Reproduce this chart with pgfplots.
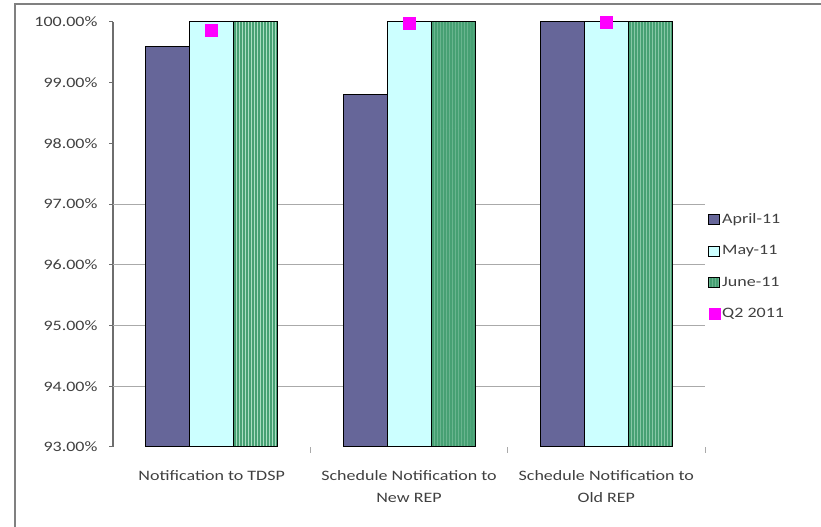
\documentclass[border=0pt]{standalone}
\usepackage{fontspec}
\setmainfont[FakeStretch=1.25]{Carlito}
\usepackage{pgfplots}
\pgfplotsset{compat=1.18}
\usetikzlibrary{patterns}

\definecolor{aprilc}{RGB}{102,102,153}
\definecolor{mayc}{RGB}{204,255,255}
\definecolor{junec}{RGB}{70,160,115}
\definecolor{junes}{RGB}{170,222,195}
\definecolor{q2c}{RGB}{255,0,255}
\definecolor{txtc}{RGB}{64,64,64}
\definecolor{gridc}{RGB}{170,170,170}
\definecolor{axisc}{RGB}{110,110,110}
\definecolor{framec}{RGB}{128,128,128}

\pgfplotsset{
  barleg/.style={legend image code/.code={\draw[##1] (0bp,-5bp) rectangle (11bp,5bp);}},
  markleg/.style={legend image code/.code={\fill[q2c] (0bp,-5.5bp) rectangle (11bp,5.5bp);}},
}

\begin{document}
\begin{tikzpicture}[x=1bp,y=1bp]
\useasboundingbox (0,0) rectangle (821,527);
\draw[framec, line width=2bp] (15,0) -- (15,523) -- (821,523);
\begin{axis}[
  at={(113bp,80bp)}, anchor=south west,
  scale only axis, width=592bp, height=425bp,
  xmin=-0.5, xmax=2.5, ymin=93, ymax=100,
  axis y line*=left, axis x line*=bottom,
  x axis line style={draw=none},
  y axis line style={draw=axisc, line width=1.5bp},
  tick align=outside,
  major tick length=4bp,
  font=\fontsize{14.4bp}{17bp}\selectfont,
  /pgf/number format/assume math mode=true,
  ticklabel style={text=txtc},
  xtick={0,1,2},
  xticklabels={Notification to TDSP, Schedule Notification to\\New REP, Schedule Notification to\\Old REP},
  xticklabel style={align=center, yshift=-16bp, font=\fontsize{14.4bp}{22bp}\selectfont},
  x tick style={draw=none},
  extra x ticks={0.5,1.5,2.5},
  extra x tick labels={},
  extra x tick style={x tick style={draw=gridc, line width=1bp}, major tick length=6bp},
  ytick={93,94,...,100},
  y tick style={draw=axisc, line width=1bp},
  yticklabel={\pgfmathprintnumber[fixed,fixed zerofill,precision=2]{\tick}\%},
  yticklabel style={xshift=-8bp},
  extra y ticks={94,95,96,97},
  extra y tick labels={},
  extra y tick style={ymajorgrids=true, major grid style={draw=gridc, line width=1bp}},
  legend style={draw=none, fill=none, at={(1,0.425)}, anchor=west,
    row sep=16.5bp, font=\fontsize{14.4bp}{17bp}\selectfont, text=txtc,
    /tikz/every even column/.append style={column sep=2bp}},
  legend cell align=left,
]
\addplot[ybar, bar width=44bp, bar shift=-44bp, fill=aprilc, draw=black, line width=1bp, barleg]
  coordinates {(0,99.59) (1,98.81) (2,100)};
\addlegendentry{April-11}
\addplot[ybar, bar width=44bp, bar shift=0bp, fill=mayc, draw=black, line width=1bp, barleg]
  coordinates {(0,100) (1,100) (2,100)};
\addlegendentry{May-11}
\addplot[ybar, bar width=44bp, bar shift=44bp, fill=junec, draw=black, line width=1bp,
  postaction={pattern=vertical lines, pattern color=junes}, barleg]
  coordinates {(0,100) (1,100) (2,100)};
\addlegendentry{June-11}
\addplot[only marks, mark=square*, mark size=6bp, color=q2c, markleg]
  coordinates {(0,99.87) (1,99.98) (2,100)};
\addlegendentry{Q2 2011}
\end{axis}
\end{tikzpicture}
\end{document}
